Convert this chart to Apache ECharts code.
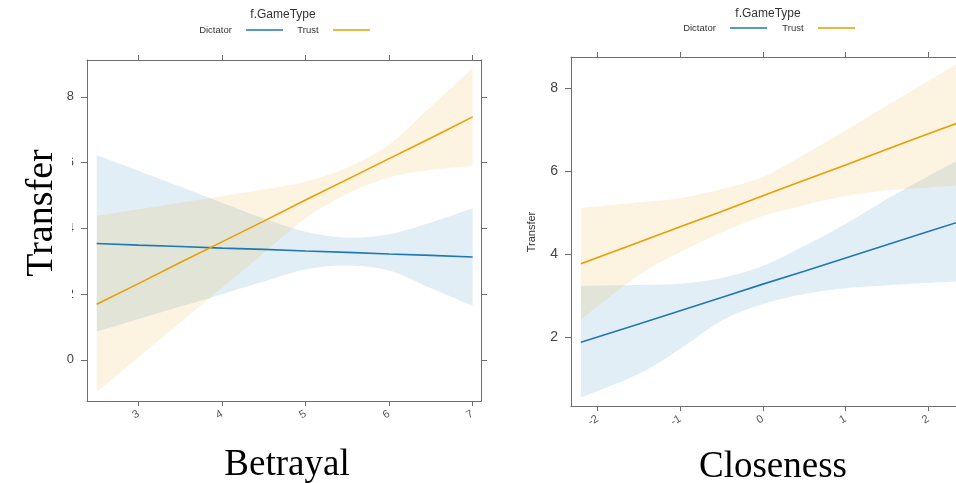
<!DOCTYPE html>
<html><head><meta charset="utf-8">
<script src="https://cdn.jsdelivr.net/npm/echarts@6/dist/echarts.min.js"></script>
<style>html,body{margin:0;padding:0;background:#fff}#c{width:956px;height:483px}</style>
</head><body><div id="c"></div>
<script>
// ---- Left panel: Betrayal ----
const betrayalX      = [2.5, 3, 3.5, 4, 4.5, 5, 5.5, 6, 6.5, 7];
const betDictFit     = [3.54, 3.49, 3.45, 3.40, 3.36, 3.31, 3.27, 3.22, 3.18, 3.13];
const betDictLower   = [0.86, 1.24, 1.62, 2.00, 2.38, 2.75, 2.87, 2.72, 2.18, 1.65];
const betDictUpper   = [6.23, 5.75, 5.27, 4.78, 4.30, 3.90, 3.72, 3.82, 4.18, 4.61];
const betTrustFit    = [1.69, 2.32, 2.96, 3.59, 4.22, 4.86, 5.49, 6.12, 6.75, 7.39];
const betTrustLower  = [-0.98, 0.08, 1.14, 2.19, 3.25, 4.30, 5.05, 5.55, 5.78, 5.90];
const betTrustUpper  = [4.38, 4.58, 4.78, 4.98, 5.18, 5.42, 5.85, 6.55, 7.70, 8.87];
const betXTicks = [3, 4, 5, 6, 7];
const betYTicks = [0, 2, 4, 6, 8];

// ---- Right panel: Closeness ----
const closenessX     = [-2.2, -1.5, -1, -0.5, 0, 0.5, 1, 1.5, 2, 2.5];
const cloDictFit     = [1.88, 2.32, 2.64, 2.96, 3.28, 3.59, 3.91, 4.23, 4.55, 4.86];
const cloDictLower   = [0.55, 1.12, 1.72, 2.40, 2.80, 3.04, 3.18, 3.25, 3.31, 3.36];
const cloDictUpper   = [3.24, 3.26, 3.29, 3.43, 3.72, 4.20, 4.73, 5.33, 5.88, 6.41];
const cloTrustFit    = [3.77, 4.29, 4.66, 5.03, 5.41, 5.78, 6.15, 6.53, 6.90, 7.27];
const cloTrustLower  = [2.43, 3.50, 4.05, 4.52, 4.92, 5.18, 5.40, 5.54, 5.61, 5.67];
const cloTrustUpper  = [5.12, 5.25, 5.35, 5.57, 5.86, 6.40, 6.98, 7.58, 8.17, 8.76];
const cloXTicks = [-2, -1, 0, 1, 2];
const cloYTicks = [2, 4, 6, 8];

const legendNames = ['Dictator', 'Trust'];
const BLUE = '#1f78b4', ORANGE = '#e69f00';
const BLUE_FILL = 'rgba(31,120,180,0.13)', ORANGE_FILL = 'rgba(230,159,0,0.12)';
const AX = '#6e6e6e';

const chart = echarts.init(document.getElementById('c'), null, {renderer: 'canvas'});

function xAx(grid, min, max, ticks, pos, labels) {
  return {
    type: 'value', gridIndex: grid, min, max, position: pos,
    splitLine: {show: false},
    axisLine: {show: true, onZero: false, lineStyle: {color: AX, width: 1}},
    axisTick: {show: true, inside: false, length: 5, customValues: ticks, lineStyle: {color: AX}},
    axisLabel: {show: labels, customValues: ticks, rotate: 30, fontSize: 11, color: '#555', margin: 12, fontFamily: 'Liberation Sans'}
  };
}
function yAx(grid, min, max, ticks, pos, labels, fs, show) {
  return {
    type: 'value', gridIndex: grid, min, max, position: pos, show: show !== false,
    splitLine: {show: false},
    axisLine: {show: true, onZero: false, lineStyle: {color: AX, width: 1}},
    axisTick: {show: true, inside: false, length: 6, customValues: ticks, lineStyle: {color: AX}},
    axisLabel: {show: labels, customValues: ticks, fontSize: fs, color: '#444', margin: 13, fontFamily: 'Liberation Sans'}
  };
}
function pairs(xs, ys) { return xs.map((x, i) => [x, ys[i]]); }

// smooth drawing of a curve through pixel points (Catmull-Rom), for rendering only
function smoothPx(pts) {
  const out = [];
  for (let i = 0; i < pts.length - 1; i++) {
    const p0 = pts[i - 1] || pts[i], p1 = pts[i], p2 = pts[i + 1], p3 = pts[i + 2] || pts[i + 1];
    for (let s = 0; s < 10; s++) {
      const t = s / 10, t2 = t * t, t3 = t2 * t;
      out.push([0, 1].map(k => 0.5 * (2 * p1[k] + (-p0[k] + p2[k]) * t +
        (2 * p0[k] - 5 * p1[k] + 4 * p2[k] - p3[k]) * t2 + (-p0[k] + 3 * p1[k] - 3 * p2[k] + p3[k]) * t3)));
    }
  }
  out.push(pts[pts.length - 1]);
  return out;
}
function band(xs, lo, hi, fill, xi, yi) {
  return {
    type: 'custom', xAxisIndex: xi, yAxisIndex: yi, silent: true, z: 1,
    data: [[xs[0], lo[0]]],
    renderItem: (params, api) => {
      const up = smoothPx(xs.map((x, i) => api.coord([x, hi[i]])));
      const dn = smoothPx(xs.map((x, i) => api.coord([x, lo[i]])));
      return {type: 'polygon', shape: {points: up.concat(dn.reverse())}, style: {fill: fill}};
    }
  };
}
function fit(xs, ys, color, xi, yi) {
  return {type: 'line', xAxisIndex: xi, yAxisIndex: yi, data: pairs(xs, ys), symbol: 'none',
          lineStyle: {color, width: 1.6}, silent: true, z: 3};
}

const series = [
  band(betrayalX, betDictLower, betDictUpper, BLUE_FILL, 0, 0),
  band(betrayalX, betTrustLower, betTrustUpper, ORANGE_FILL, 0, 0),
  band(closenessX, cloDictLower, cloDictUpper, BLUE_FILL, 2, 2),
  band(closenessX, cloTrustLower, cloTrustUpper, ORANGE_FILL, 2, 2),
  fit(betrayalX, betDictFit, BLUE, 0, 0), fit(betrayalX, betTrustFit, ORANGE, 0, 0),
  fit(closenessX, cloDictFit, BLUE, 2, 2), fit(closenessX, cloTrustFit, ORANGE, 2, 2)
];

function legendGraphics(cx, ty, ly, dictX, line1, trustX, line2) {
  const t = {fontFamily: 'Liberation Sans', fill: '#333'};
  return [
    {type: 'text', x: cx, y: ty, style: Object.assign({text: 'f.GameType', fontSize: 12, align: 'center', verticalAlign: 'middle'}, t)},
    {type: 'text', x: dictX, y: ly, style: Object.assign({text: legendNames[0], fontSize: 9.5, align: 'center', verticalAlign: 'middle'}, t)},
    {type: 'line', shape: {x1: line1, y1: ly, x2: line1 + 37, y2: ly}, style: {stroke: BLUE, lineWidth: 1.6}},
    {type: 'text', x: trustX, y: ly, style: Object.assign({text: legendNames[1], fontSize: 9.5, align: 'center', verticalAlign: 'middle'}, t)},
    {type: 'line', shape: {x1: line2, y1: ly, x2: line2 + 37, y2: ly}, style: {stroke: ORANGE, lineWidth: 1.6}}
  ];
}

const serif = 'Liberation Serif';
const graphics = [].concat(
  legendGraphics(283, 15, 30, 215.5, 246, 308, 333),
  legendGraphics(768, 14, 28, 699.5, 730, 793, 818),
  [
    {type: 'rect', shape: {x: 14, y: 135, width: 58, height: 175}, style: {fill: '#fff'}, z: 100},
    {type: 'text', x: 42, y: 213, rotation: Math.PI / 2, z: 101,
     style: {text: 'Transfer', fontFamily: serif, fontSize: 38, fill: '#000', align: 'center', verticalAlign: 'middle'}},
    {type: 'text', x: 287, y: 465, z: 101,
     style: {text: 'Betrayal', fontFamily: serif, fontSize: 37, fill: '#000', align: 'center', verticalAlign: 'middle'}},
    {type: 'text', x: 773, y: 467, z: 101,
     style: {text: 'Closeness', fontFamily: serif, fontSize: 37, fill: '#000', align: 'center', verticalAlign: 'middle'}},
    {type: 'text', x: 532, y: 232, rotation: Math.PI / 2, z: 101,
     style: {text: 'Transfer', fontFamily: 'Liberation Sans', fontSize: 11, fill: '#333', align: 'center', verticalAlign: 'middle'}}
  ]
);

chart.setOption({
  animation: false,
  backgroundColor: '#fff',
  grid: [
    {left: 87, top: 60, width: 394, height: 341, containLabel: false},
    {left: 571, top: 57, right: 0, height: 349, containLabel: false}
  ],
  xAxis: [
    xAx(0, 2.384, 7.10, betXTicks, 'bottom', true),
    xAx(0, 2.384, 7.10, betXTicks, 'top', false),
    xAx(1, -2.32, 2.335, cloXTicks, 'bottom', true),
    xAx(1, -2.32, 2.335, cloXTicks, 'top', false)
  ],
  yAxis: [
    yAx(0, -1.25, 9.12, betYTicks, 'left', true, 13),
    yAx(0, -1.25, 9.12, betYTicks, 'right', false, 13),
    yAx(1, 0.345, 8.75, cloYTicks, 'left', true, 14),
    yAx(1, 0.345, 8.75, cloYTicks, 'right', false, 14, false)
  ],
  series,
  graphic: graphics
});
</script></body></html>
